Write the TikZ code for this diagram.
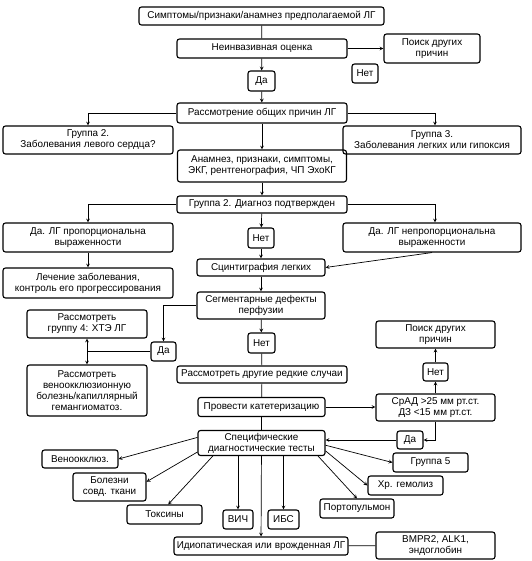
\documentclass[tikz,border=0pt]{standalone}
\usepackage{fontspec}
\setmainfont{Liberation Sans}
\usepackage{tikz}
\usetikzlibrary{calc}
\tikzset{
  bx/.style={draw, line width=1.1pt, rounded corners=2.5pt, inner sep=0pt, align=center,
    font=\fontsize{9.9}{11}\selectfont},
  sz/.style 2 args={minimum width=#1pt, minimum height=#2pt},
  ln/.style={line width=0.7pt}
}
\begin{document}
\begin{tikzpicture}[x=1pt,y=-1pt]
\useasboundingbox (0,0) rectangle (531,561);
\node[bx,sz={245}{18}] (symp) at (261.5,16) {Симптомы/признаки/анамнез предполагаемой ЛГ};
\node[bx,sz={170}{19}] (noninv) at (262,48.5) {Неинвазивная оценка};
\node[bx,sz={96}{29}] (other1) at (432,48.5) {Поиск других\\причин};
\node[bx,sz={26}{19}] (net1) at (365,73.5) {Нет};
\node[bx,sz={27}{20}] (da1) at (261.5,81) {Да};
\node[bx,sz={170}{20}] (common) at (262,113) {Рассмотрение общих причин ЛГ};
\node[bx,sz={170}{28}] (gr2) at (88,140) {Группа 2.\\Заболевания левого сердца?};
\node[bx,sz={178}{28}] (gr3) at (432,140) {Группа 3.\\Заболевания легких или гипоксия};
\node[bx,sz={169}{32}] (anam) at (262,166) {Анамнез, признаки, симптомы,\\ЭКГ, рентгенография, ЧП ЭхоКГ};
\node[bx,sz={170}{17}] (diag) at (262,204.5) {Группа 2. Диагноз подтвержден};
\node[bx,sz={170}{29}] (yesprop) at (88,237.5) {Да. ЛГ пропорциональна\\выраженности};
\node[bx,sz={178}{29}] (yesnonprop) at (432,237.5) {Да. ЛГ непропорциональна\\выраженности};
\node[bx,sz={26}{20}] (net2) at (261,238) {Нет};
\node[bx,sz={128}{17}] (scint) at (261,267.5) {Сцинтиграфия легких};
\node[bx,sz={170}{30}] (treat) at (88,283) {Лечение заболевания,\\контроль его прогрессирования};
\node[bx,sz={128}{27}] (segm) at (261,305.5) {Сегментарные дефекты\\перфузии};
\node[bx,sz={120}{28}] (gr4) at (87,324) {Рассмотреть\\группу 4: ХТЭ ЛГ};
\node[bx,sz={25}{19}] (da2) at (163.5,351.5) {Да};
\node[bx,sz={120}{51}] (veno4) at (87,390.5) {Рассмотреть\\веноокклюзионную\\болезнь/капиллярный\\гемангиоматоз.};
\node[bx,sz={27}{20}] (net3) at (261.5,343) {Нет};
\node[bx,sz={170}{17}] (rare) at (262,374.5) {Рассмотреть другие редкие случаи};
\node[bx,sz={127}{19}] (cath) at (261.5,407) {Провести катетеризацию};
\node[bx,sz={119}{27}] (srad) at (435.5,407.5) {СрАД >25 мм рт.ст.\\ДЗ <15 мм рт.ст.};
\node[bx,sz={119}{27}] (other2) at (435.5,334.5) {Поиск других\\причин};
\node[bx,sz={25}{18}] (net4) at (435.5,372) {Нет};
\node[bx,sz={26}{18}] (da3) at (410,440) {Да};
\node[bx,sz={127}{25}] (spec) at (261.5,443) {Специфические\\диагностические тесты};
\node[bx,sz={76}{18}] (venocl) at (80,459) {Веноокклюз.};
\node[bx,sz={75}{19}] (gr5) at (430.5,462.5) {Группа 5};
\node[bx,sz={73}{28}] (bolezni) at (109.5,487) {Болезни\\совд. ткани};
\node[bx,sz={75}{19}] (khr) at (405.5,485.5) {Хр. гемолиз};
\node[bx,sz={75}{19}] (toks) at (164.5,514.5) {Токсины};
\node[bx,sz={74}{19}] (porto) at (357,508.5) {Портопульмон};
\node[bx,sz={30}{19}] (vich) at (238,519.5) {ВИЧ};
\node[bx,sz={31}{19}] (ibs) at (283.5,519.5) {ИБС};
\node[bx,sz={174}{18}] (idio) at (261,546) {Идиопатическая или врожденная ЛГ};
\node[bx,sz={119}{27}] (bmpr) at (435.5,545.5) {BMPR2, ALK1,\\эндоглобин};
\draw[ln] (symp) -- (noninv);
\draw[ln,-stealth] (noninv) -- (other1);
\draw[ln,-stealth] (noninv) -- (da1);
\draw[ln,-stealth] (da1) -- (common);
\draw[ln,-stealth] (common.west) -| (gr2.north);
\draw[ln,-stealth] (common.east) -| ([xshift=3pt]gr3.north);
\draw[ln,-stealth] (common) -- (anam);
\draw[ln,-stealth] (anam) -- (diag);
\draw[ln,-stealth] (diag.west) -| (yesprop.north);
\draw[ln,-stealth] (diag.east) -| ([xshift=3pt]yesnonprop.north);
\draw[ln,-stealth] (diag) -- (net2);
\draw[ln,-stealth] (net2) -- (scint);
\draw[ln,-stealth] (yesnonprop.south) -- (scint.east);
\draw[ln,-stealth] (yesprop) -- (treat);
\draw[ln,-stealth] (scint) -- (segm);
\draw[ln,-stealth] (segm.west) -| (da2.north);
\draw[ln,stealth-stealth] (gr4) -- (veno4);
\draw[ln] (da2.west) -- (da2.west -| gr4.south);
\draw[ln,-stealth] (segm) -- (net3);
\draw[ln] (net3) -- (rare);
\draw[ln] (rare) -- (cath);
\draw[ln,-stealth] (cath.east) -- (cath.east -| srad.west);
\draw[ln,-stealth] (srad) -- (net4);
\draw[ln,-stealth] (net4) -- (other2);
\draw[ln,-stealth] (srad.south) |- (da3.east);
\draw[ln,-stealth] (da3.west) -- (da3.west -| spec.east);
\draw[ln] (cath) -- (spec);
\draw[ln,-stealth] (spec.175) -- (venocl.east);
\draw[ln,-stealth] (spec.188) -- (bolezni.8);
\draw[ln,-stealth] (spec.195) -- (toks.70);
\draw[ln,-stealth] (vich.north |- spec.south) -- (vich.north);
\draw[ln,-stealth] (ibs.north |- spec.south) -- (ibs.north);
\draw[ln,-stealth] (spec) -- (idio);
\draw[ln,-stealth] (spec.-13) -- (porto.north);
\draw[ln,-stealth] (spec.-7) -- (khr.west);
\draw[ln,-stealth] (spec.-2) -- (gr5.west);
\draw[ln] (idio) -- (bmpr);
\end{tikzpicture}
\end{document}
